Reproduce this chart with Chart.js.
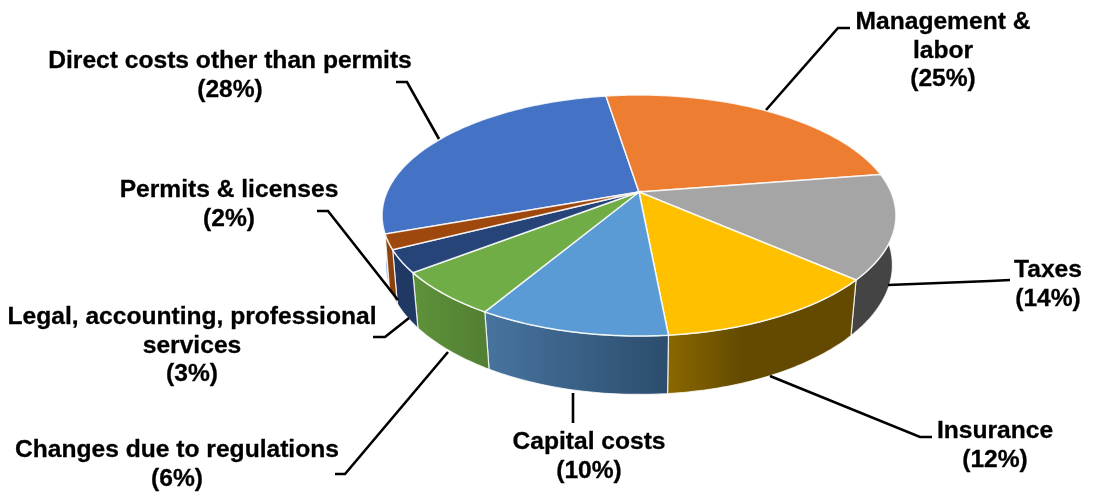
<!DOCTYPE html>
<html>
<head>
<meta charset="utf-8">
<title>Cost shares</title>
<script src="https://cdn.jsdelivr.net/npm/chart.js@4"></script>
<style>
  html, body { margin: 0; padding: 0; background: #fff; }
  canvas { display: block; }
</style>
</head>
<body>
<canvas id="costChart" width="1095" height="492"></canvas>
<script>
// Data
const categories = [
  "Direct costs other than permits",
  "Management & labor",
  "Taxes",
  "Insurance",
  "Capital costs",
  "Changes due to regulations",
  "Legal, accounting, professional services",
  "Permits & licenses",
];
const shares = [28, 25, 14, 12, 10, 6, 3, 2];

// Colours of the top face and of the outer wall (left to right)
const topColors = ["#4472c4", "#ed7d31", "#a5a5a5", "#ffc000", "#5b9bd5", "#70ad47", "#264478", "#9e480e"];
const wallColors = [
  ["#a9bde3", "#4472c4"],
  ["#8e4b1d", "#8e4b1d"],
  ["#444444", "#444444"],
  ["#8a6800", "#634a00"],
  ["#47749f", "#2c4d6d"],
  ["#5e9239", "#527f34"],
  ["#1f3864", "#1f3864"],
  ["#8f450d", "#8a3f0c"],
];

// Label layout: text lines, centre x, first baseline y
const labelLines = [
  ["Direct costs other than permits"],
  ["Management &", "labor"],
  ["Taxes"],
  ["Insurance"],
  ["Capital costs"],
  ["Changes due to regulations"],
  ["Legal, accounting, professional", "services"],
  ["Permits & licenses"],
];
const labelX = [230, 943, 1048, 995, 589, 177, 192, 229];
const labelY = [68, 29, 277, 438, 449, 457, 324, 197];
const lineHeight = 28.7;

// Leader lines
const leaders = [
  [[396, 82], [407, 82], [439, 139]],
  [[850, 28], [838, 28], [766, 110]],
  [[1010, 280], [990, 281], [888, 285]],
  [[932, 437], [920, 437], [770, 376]],
  [[573, 423], [573, 393]],
  [[335, 474], [345, 474], [448, 352]],
  [[373, 337], [385, 337], [409, 318]],
  [[317, 211], [328, 211], [398, 300]],
];

// Perspective of the disc: apex position, radius, tilt
const apexX = 639, apexY = 192;
const radiusX = 252, radiusY = 115.9, tilt = -0.195;
const wallDepth = 50.5, wallDepthNear = 8;

// chart.js arc angle -> screen position on the upper rim
function rimPoint(angle) {
  const u = Math.cos(angle);
  const v = Math.sin(angle);
  const w = 1 + tilt * v;
  return { x: apexX + radiusX * u / w, y: apexY + radiusY * v / w, v };
}

// same angle on the lower rim
function lowerPoint(angle) {
  const p = rimPoint(angle);
  return {
    x: apexX + (p.x - apexX) * (0.99 - 0.02 * p.v),
    y: p.y + wallDepth + wallDepthNear * p.v,
  };
}

function sampleAngles(start, end) {
  const steps = Math.max(2, Math.ceil((end - start) / (Math.PI / 180)));
  const out = [];
  for (let i = 0; i <= steps; i++) out.push(start + (end - start) * i / steps);
  return out;
}

function drawWall(ctx, arc, index) {
  const angles = sampleAngles(arc.startAngle, arc.endAngle);
  const upper = angles.map(rimPoint);
  const lower = angles.map(lowerPoint);
  const xs = upper.concat(lower).map((p) => p.x);
  const grad = ctx.createLinearGradient(Math.min(...xs), 0, Math.max(...xs), 0);
  grad.addColorStop(0, wallColors[index][0]);
  grad.addColorStop(index === 3 ? 0.4 : 1, wallColors[index][1]);
  grad.addColorStop(1, wallColors[index][1]);

  ctx.beginPath();
  upper.forEach((p, i) => (i ? ctx.lineTo(p.x, p.y) : ctx.moveTo(p.x, p.y)));
  lower.reverse().forEach((p) => ctx.lineTo(p.x, p.y));
  ctx.closePath();
  ctx.fillStyle = grad;
  ctx.fill();
  ctx.strokeStyle = "rgba(255,255,255,0.8)";
  ctx.lineWidth = 1.2;
  ctx.stroke();
}

function drawTop(ctx, arc, index) {
  ctx.beginPath();
  ctx.moveTo(apexX, apexY);
  sampleAngles(arc.startAngle, arc.endAngle).map(rimPoint).forEach((p) => ctx.lineTo(p.x, p.y));
  ctx.closePath();
  ctx.fillStyle = topColors[index];
  ctx.fill();
  ctx.strokeStyle = "rgba(255,255,255,0.85)";
  ctx.lineWidth = 1.5;
  ctx.stroke();
}

function drawLabels(ctx) {
  ctx.strokeStyle = "#000";
  ctx.lineWidth = 2.6;
  ctx.lineJoin = "miter";
  leaders.forEach((pts) => {
    ctx.beginPath();
    pts.forEach((p, i) => (i ? ctx.lineTo(p[0], p[1]) : ctx.moveTo(p[0], p[1])));
    ctx.stroke();
  });

  ctx.fillStyle = "#000";
  ctx.lineWidth = 0.3;
  ctx.font = 'bold 24.6px "Liberation Sans", Arial, sans-serif';
  ctx.textAlign = "center";
  ctx.textBaseline = "alphabetic";
  labelLines.forEach((lines, i) => {
    lines.concat(`(${shares[i]}%)`).forEach((line, n) => {
      ctx.fillText(line, labelX[i], labelY[i] + n * lineHeight);
      ctx.strokeText(line, labelX[i], labelY[i] + n * lineHeight);
    });
  });
}

// Replaces the flat arcs with a tilted disc, keeping the angles computed by the pie controller
const tiltedPie = {
  id: "tiltedPie",
  beforeDatasetDraw(chart, args) {
    const ctx = chart.ctx;
    const arcs = args.meta.data;
    ctx.save();
    arcs.forEach((arc, i) => drawWall(ctx, arc, i));
    arcs.forEach((arc, i) => drawTop(ctx, arc, i));
    drawLabels(ctx);
    ctx.restore();
    return false;
  },
};

new Chart(document.getElementById("costChart"), {
  type: "pie",
  data: {
    labels: categories,
    datasets: [{ data: shares, backgroundColor: topColors, borderWidth: 0 }],
  },
  options: {
    responsive: false,
    animation: false,
    rotation: -109.8,
    plugins: { legend: { display: false }, tooltip: { enabled: false } },
  },
  plugins: [tiltedPie],
});
</script>
</body>
</html>
